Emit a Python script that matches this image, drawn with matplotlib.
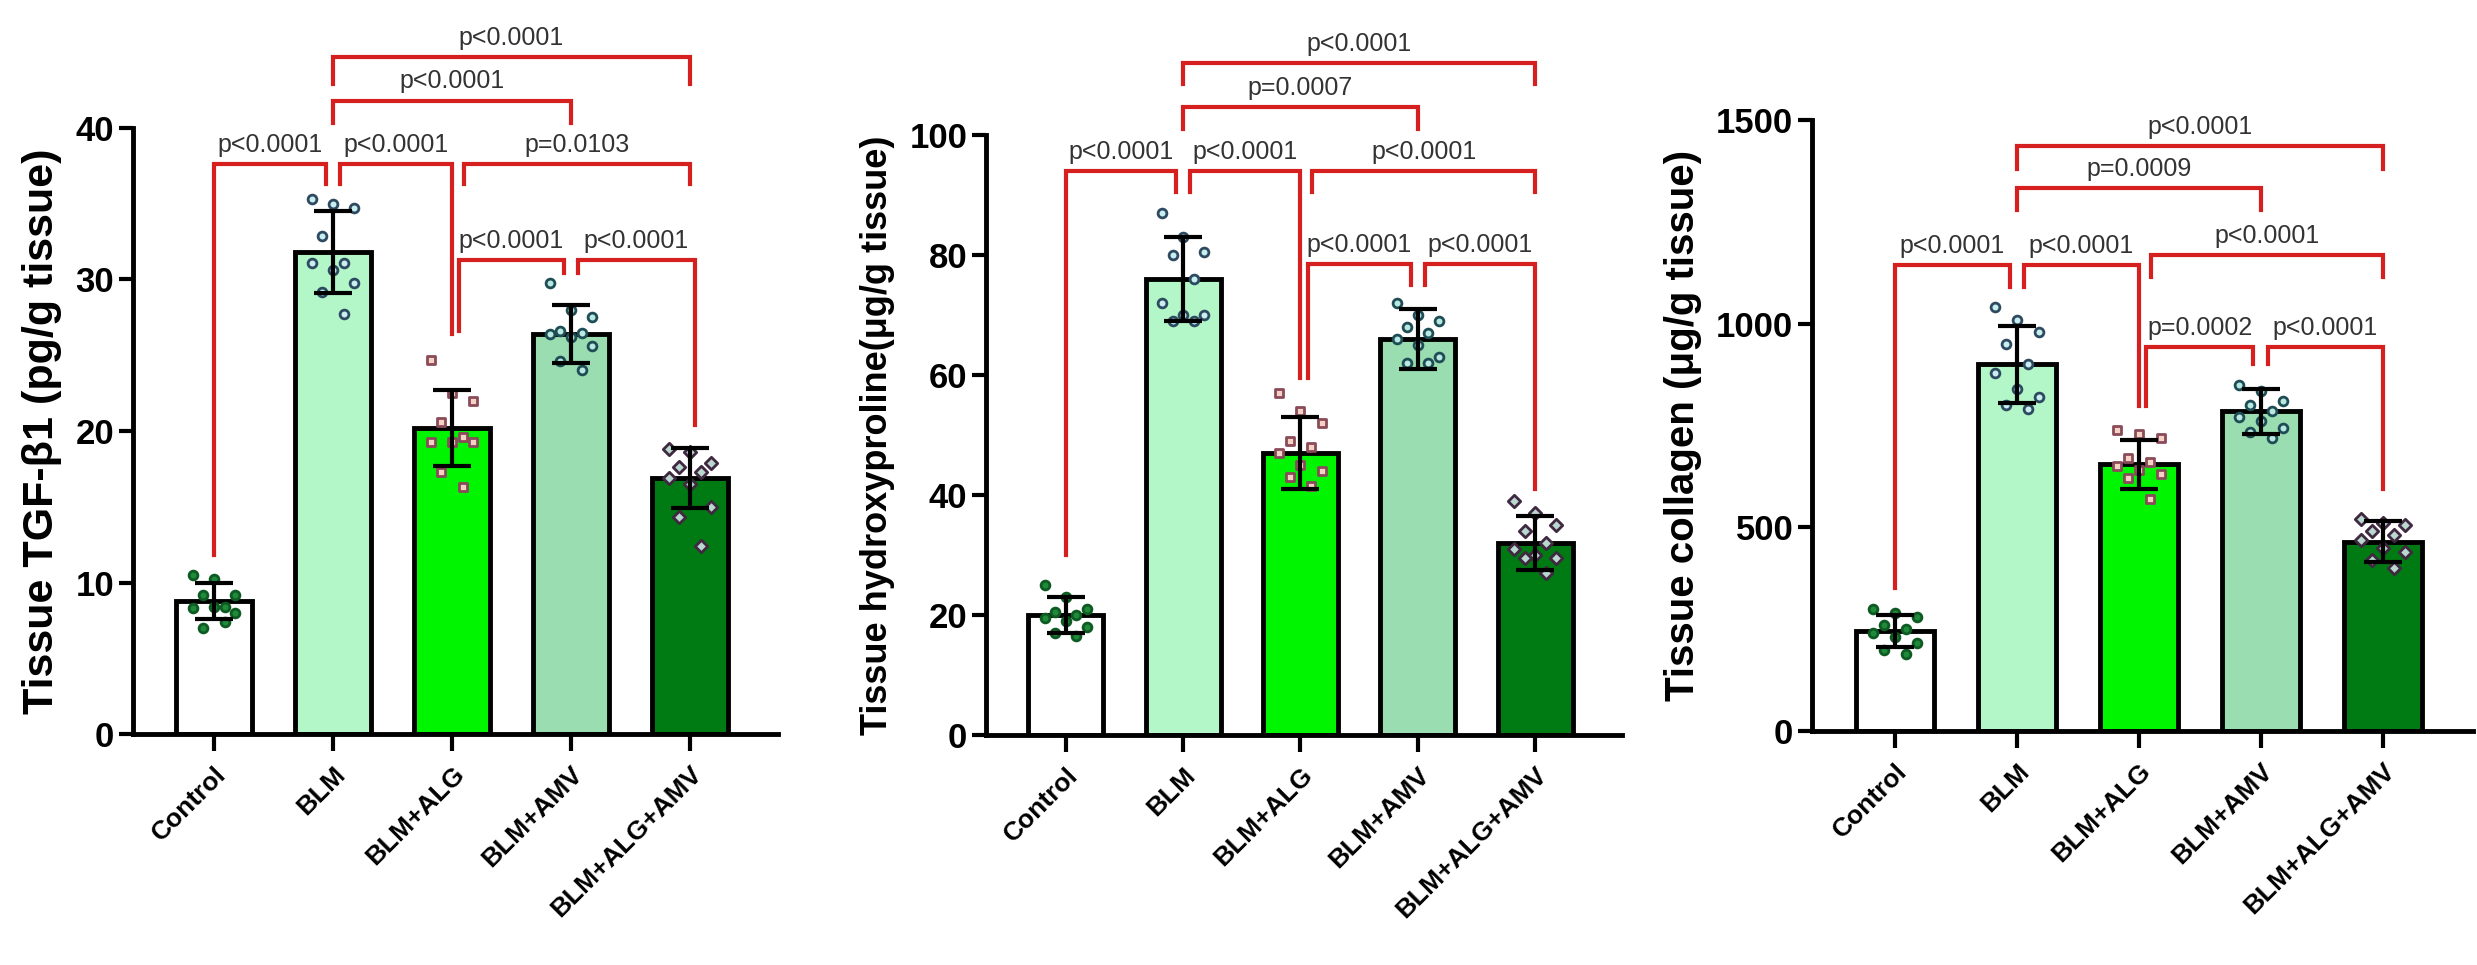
import matplotlib
matplotlib.use("Agg")
import matplotlib.pyplot as plt
import numpy as np

plt.rcParams['font.family'] = ['Liberation Sans', 'DejaVu Sans']

groups = ["Control", "BLM", "BLM+ALG", "BLM+AMV", "BLM+ALG+AMV"]

tgf_mean = [8.8, 31.8, 20.2, 26.4, 16.9]
tgf_sd = [1.2, 2.7, 2.5, 1.9, 2.0]
tgf_pts = [
    [10.5, 10.2, 9.2, 9.2, 8.4, 8.3, 8.4, 8.0, 7.0, 7.4],
    [35.3, 35.0, 34.7, 32.9, 31.1, 31.1, 30.6, 29.8, 29.2, 27.7],
    [24.7, 22.5, 22.0, 20.6, 19.6, 19.3, 19.3, 19.3, 17.3, 16.3],
    [29.8, 28.0, 27.5, 26.6, 26.5, 26.4, 26.2, 25.6, 24.6, 24.0],
    [18.8, 18.6, 17.9, 17.6, 17.3, 16.9, 16.5, 15.0, 14.3, 12.4],
]
hyp_mean = [20.0, 76.0, 47.0, 66.0, 32.0]
hyp_sd = [3.0, 7.0, 6.0, 5.0, 4.5]
hyp_pts = [
    [25, 23, 21, 20.5, 20, 19.5, 19, 18, 17, 16.5],
    [87, 83, 80.5, 80, 76, 72, 70, 70, 69, 69],
    [57, 54, 52, 49, 48, 47, 45, 44, 43, 41.5],
    [72, 70, 69, 68, 67, 66, 65, 63, 62, 62],
    [39, 37, 35, 34, 32, 31, 30, 29.5, 29.5, 27],
]
col_mean = [245, 900, 655, 785, 465]
col_sd = [40, 95, 60, 55, 50]
col_pts = [
    [300, 290, 280, 260, 250, 240, 230, 215, 200, 190],
    [1040, 1010, 980, 950, 900, 880, 840, 820, 800, 790],
    [740, 730, 720, 670, 660, 650, 640, 630, 620, 570],
    [850, 835, 810, 800, 785, 770, 760, 745, 735, 720],
    [520, 510, 505, 490, 480, 470, 450, 440, 420, 400],
]

# brackets: (i, j, y, left leg bottom, right leg bottom, label)
tgf_br = [
    (0, 0.94, 37.6, 11.8, 36.3, "p<0.0001"),
    (1.06, 2.0, 37.6, 36.3, 26.4, "p<0.0001"),
    (2.1, 4.0, 37.6, 36.3, 36.3, "p=0.0103"),
    (2.06, 2.94, 31.3, 26.6, 30.4, "p<0.0001"),
    (3.06, 4.04, 31.3, 30.4, 20.4, "p<0.0001"),
    (1.0, 3.0, 41.8, 40.3, 40.3, "p<0.0001"),
    (1.0, 4.0, 44.7, 42.9, 42.9, "p<0.0001"),
]
hyp_br = [
    (0, 0.94, 94.0, 30.0, 90.5, "p<0.0001"),
    (1.06, 2.0, 94.0, 90.5, 59.5, "p<0.0001"),
    (2.1, 4.0, 94.0, 90.5, 90.5, "p<0.0001"),
    (2.06, 2.94, 78.5, 59.5, 75.0, "p<0.0001"),
    (3.06, 4.0, 78.5, 75.0, 41.0, "p<0.0001"),
    (1.0, 3.0, 104.7, 101.0, 101.0, "p=0.0007"),
    (1.0, 4.0, 112.0, 108.5, 108.5, "p<0.0001"),
]
col_br = [
    (0, 0.94, 1143, 352, 1090, "p<0.0001"),
    (1.06, 2.0, 1143, 1090, 798, "p<0.0001"),
    (2.1, 4.0, 1168, 1115, 1115, "p<0.0001"),
    (2.06, 2.94, 943, 798, 900, "p=0.0002"),
    (3.06, 4.0, 943, 900, 594, "p<0.0001"),
    (1.0, 3.0, 1333, 1280, 1280, "p=0.0009"),
    (1.0, 4.0, 1435, 1380, 1380, "p<0.0001"),
]

bar_colors = ["#ffffff", "#b3f7c9", "#00f500", "#99ddb0", "#007a12"]
pt_face = ["#1f8a3a", "#c8eef0", "#f4d2c4", "#b8e8e0", "#b8d8d0"]
pt_edge = ["#0d5a22", "#2e4a60", "#8a4a5a", "#1e4d55", "#402840"]
markers = ["o", "o", "s", "o", "D"]
offsets = [-0.18, 0.0, 0.18, -0.09, 0.09, -0.18, 0.0, 0.18, -0.09, 0.09]

panels = [
    ("Tissue TGF-β1 (pg/g tissue)", tgf_mean, tgf_sd, tgf_pts, tgf_br, 40, [0, 10, 20, 30, 40],
     [133 / 2477, 1 - 734 / 965, 645 / 2477, 606 / 965], 31),
    ("Tissue hydroxyproline(μg/g tissue)", hyp_mean, hyp_sd, hyp_pts, hyp_br, 100, [0, 20, 40, 60, 80, 100],
     [986 / 2477, 1 - 735 / 965, 636 / 2477, 600 / 965], 26),
    ("Tissue collagen (μg/g tissue)", col_mean, col_sd, col_pts, col_br, 1500, [0, 500, 1000, 1500],
     [1812 / 2477, 1 - 731 / 965, 661 / 2477, 611 / 965], 29),
]

fig = plt.figure(figsize=(24.77, 9.65), dpi=100)

for ylabel, means, sds, pts, brs, ymax, ticks, pos, ylfs in panels:
    ax = fig.add_axes(pos)
    x = np.arange(len(groups))
    ax.bar(x, means, width=0.64, color=bar_colors, edgecolor="black", linewidth=3.5, zorder=1)
    for i, vals in enumerate(pts):
        xs = [i + offsets[k % len(offsets)] for k in range(len(vals))]
        ax.scatter(xs, vals, s=40, marker=markers[i], facecolor=pt_face[i], edgecolor=pt_edge[i],
                   linewidths=2, zorder=3)
    ax.errorbar(x, means, yerr=sds, fmt="none", ecolor="black", elinewidth=3, capsize=14, capthick=3, zorder=4)
    ax.set_ylim(0, ymax)
    ax.set_xlim(-0.68, 4.74)
    ax.set_yticks(ticks)
    ax.set_xticks(x)
    ax.set_xticklabels(groups, rotation=45, ha="right", rotation_mode="anchor",
                       fontsize=19, fontweight="bold")
    ax.tick_params(axis="y", labelsize=25, width=3, length=10)
    for lab in ax.get_yticklabels():
        lab.set_fontweight("bold")
    ax.tick_params(axis="x", width=3, length=12, pad=8)
    for s in ["top", "right"]:
        ax.spines[s].set_visible(False)
    for s in ["left", "bottom"]:
        ax.spines[s].set_linewidth(3.5)
    ax.set_ylabel(ylabel, fontsize=ylfs, fontweight="bold", labelpad=10)
    for (a, b, y, la, lb, txt) in brs:
        ax.plot([a, a, b, b], [la, y, y, lb], color="#d62020", lw=3, clip_on=False, zorder=5,
                solid_joinstyle="miter")
        ax.text((a + b) / 2, y + ymax * 0.012, txt, ha="center", va="bottom", fontsize=18,
                color="#333333", clip_on=False)

fig.savefig("out.png", dpi=100, facecolor="white")
